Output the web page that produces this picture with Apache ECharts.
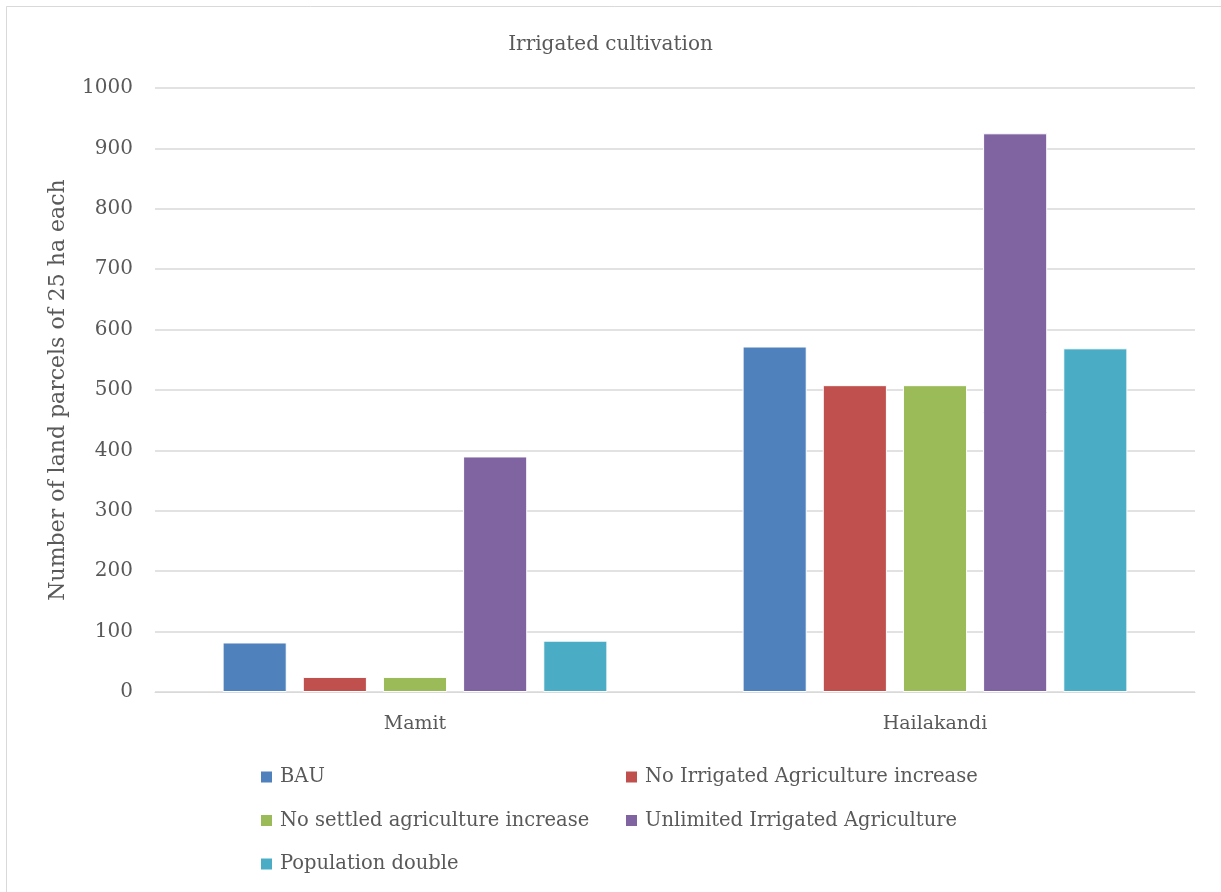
<!DOCTYPE html>
<html><head><meta charset="utf-8">
<script src="https://cdn.jsdelivr.net/npm/echarts@6/dist/echarts.min.js"></script>
<style>html,body{margin:0;padding:0;background:#fff}#c{width:1221px;height:892px}</style>
</head><body><div id="c"></div>
<script>
const categories = ['Mamit', 'Hailakandi'];
const seriesNames = ['BAU', 'No Irrigated Agriculture increase', 'No settled agriculture increase', 'Unlimited Irrigated Agriculture', 'Population double'];
const bau = [82, 572];
const noIrrigated = [25, 508];
const noSettled = [25, 508];
const unlimited = [390, 925];
const popDouble = [85, 569];
const colors = ['#4F81BD', '#C0504D', '#9BBB59', '#8064A2', '#4BACC6'];
const yTicks = [0, 100, 200, 300, 400, 500, 600, 700, 800, 900, 1000];

const values = [bau, noIrrigated, noSettled, unlimited, popDouble];
const font = '"DejaVu Serif", serif';
const chart = echarts.init(document.getElementById('c'));
const legendText = {color: '#595959', fontSize: 19.5, fontFamily: font, padding: [0, 0, 0, 2]};
chart.setOption({
  animation: false,
  backgroundColor: '#fff',
  graphic: [{type: 'rect', shape: {x: 6.5, y: 6.5, width: 1240, height: 920}, style: {fill: 'none', stroke: '#d9d9d9', lineWidth: 1}, silent: true}],
  title: {text: 'Irrigated cultivation', left: 'center', top: 30, textStyle: {color: '#595959', fontSize: 20, fontWeight: 'normal', fontFamily: font}},
  grid: {left: 155, right: 26, top: 88, bottom: 200, containLabel: false},
  legend: [
    {orient: 'vertical', left: 259, top: 767, padding: 0, itemWidth: 13, itemHeight: 13, itemGap: 23.5, icon: 'rect', textStyle: legendText,
      data: [seriesNames[0], seriesNames[2], seriesNames[4]]},
    {orient: 'vertical', left: 624, top: 767, padding: 0, itemWidth: 13, itemHeight: 13, itemGap: 23.5, icon: 'rect', textStyle: legendText,
      data: [seriesNames[1], seriesNames[3]]}
  ],
  xAxis: {type: 'category', data: categories,
    axisLine: {lineStyle: {color: '#d9d9d9', width: 1}}, axisTick: {show: false},
    axisLabel: {color: '#595959', fontSize: 19, fontFamily: font, margin: 23}},
  yAxis: {type: 'value', min: 0, max: 1000, interval: 100,
    name: 'Number of land parcels of 25 ha each', nameLocation: 'middle', nameGap: 86,
    nameTextStyle: {color: '#595959', fontSize: 22, fontFamily: font},
    axisLine: {show: false}, axisTick: {show: false},
    axisLabel: {color: '#595959', fontSize: 20, fontFamily: font, margin: 22,
      formatter: v => yTicks.includes(v) ? String(v) : ''},
    splitLine: {lineStyle: {color: '#d9d9d9', width: 1.5}}},
  series: seriesNames.map((n, i) => ({
    name: n, type: 'bar', data: values[i], barGap: '25%', barCategoryGap: '26%',
    itemStyle: {color: colors[i], borderColor: '#ffffff', borderWidth: 1}
  }))
});
</script></body></html>
